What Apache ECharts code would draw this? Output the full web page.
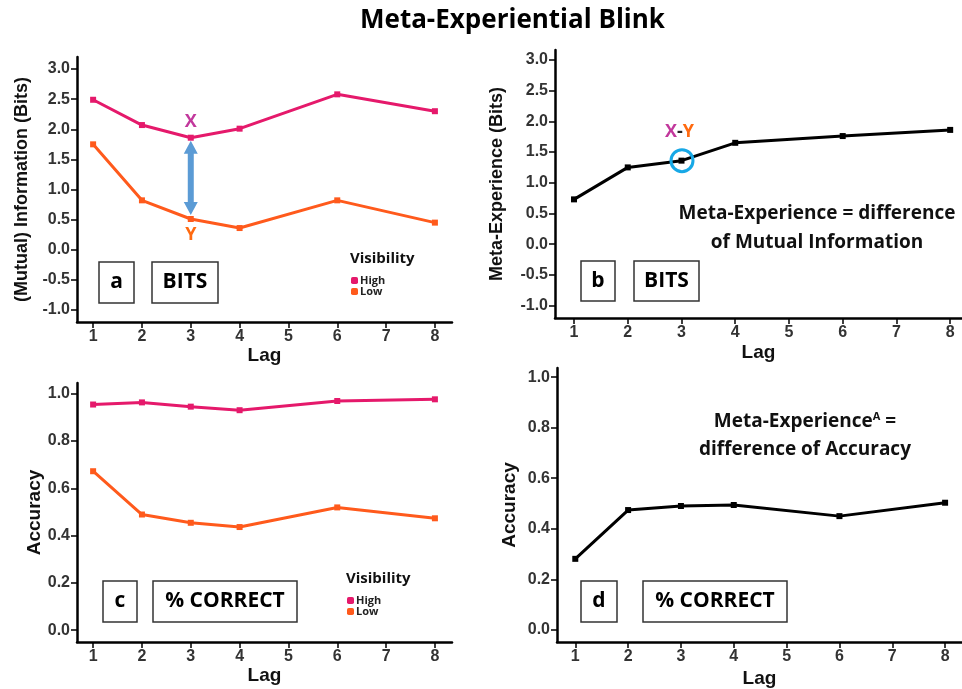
<!DOCTYPE html>
<html>
<head>
<meta charset="utf-8">
<script src="https://cdn.jsdelivr.net/npm/echarts@6/dist/echarts.min.js"></script>
<style>html,body{margin:0;padding:0;background:#fff}#c{width:962px;height:689px}</style>
</head>
<body>
<div id="c"></div>
<script>
const lags = [1, 2, 3, 4, 6, 8];
const lagTicks = [1, 2, 3, 4, 5, 6, 7, 8];
const bitsTicks = [-1, -0.5, 0, 0.5, 1, 1.5, 2, 2.5, 3];
const accTicks = [0, 0.2, 0.4, 0.6, 0.8, 1.0];
const bitsHigh = [2.49, 2.07, 1.86, 2.01, 2.58, 2.30];
const bitsLow = [1.75, 0.82, 0.51, 0.36, 0.82, 0.45];
const metaBits = [0.73, 1.25, 1.36, 1.65, 1.76, 1.86];
const accHigh = [0.954, 0.963, 0.945, 0.930, 0.969, 0.976];
const accLow = [0.672, 0.489, 0.454, 0.436, 0.519, 0.473];
const metaAcc = [0.281, 0.474, 0.490, 0.494, 0.450, 0.503];

const HIGH = '#e5196b', LOW = '#ff5a1c', MAG = '#c2389c', ORG = '#ff6a10';
const AX = 'Liberation Sans', TX = 'Open Sans';
const pairs = ys => lags.map((l, i) => [l, ys[i]]);

function xAxis(gi, min, max, gap) {
  return {
    type: 'value', gridIndex: gi, min: min, max: max,
    axisLine: {show: true, onZero: false, lineStyle: {color: '#000', width: 2.5}},
    axisTick: {show: true, length: 6, lineStyle: {color: '#000', width: 1.5}, customValues: lagTicks},
    axisLabel: {customValues: lagTicks, margin: 7, fontFamily: AX, fontWeight: 'bold', fontSize: 16, color: '#333'},
    splitLine: {show: false},
    name: 'Lag', nameLocation: 'middle', nameGap: gap,
    nameTextStyle: {fontFamily: AX, fontWeight: 'bold', fontSize: 19, color: '#111'}
  };
}
function yAxis(gi, min, max, ticks, name, gap, size) {
  return {
    type: 'value', gridIndex: gi, min: min, max: max,
    axisLine: {show: true, onZero: false, lineStyle: {color: '#000', width: 2.5}},
    axisTick: {show: true, length: 6, lineStyle: {color: '#000', width: 1.5}, customValues: ticks},
    axisLabel: {customValues: ticks, margin: 7, fontFamily: AX, fontWeight: 'bold', fontSize: 16, color: '#333',
      formatter: v => v.toFixed(1)},
    splitLine: {show: false},
    name: name, nameLocation: 'middle', nameGap: gap, nameRotate: 90,
    nameTextStyle: {fontFamily: AX, fontWeight: 'bold', fontSize: size, color: '#111'}
  };
}
function line(name, gi, ys, color) {
  return {
    type: 'line', name: name, xAxisIndex: gi, yAxisIndex: gi, data: pairs(ys),
    symbol: 'rect', symbolSize: 6, showSymbol: true,
    lineStyle: {color: color, width: 3}, itemStyle: {color: color},
    emphasis: {disabled: true}, animation: false
  };
}
function legend(left, top) {
  return {
    data: ['High', 'Low'], left: left, top: top, orient: 'vertical', padding: 0,
    itemWidth: 7, itemHeight: 7, itemGap: 0, icon: 'roundRect', selectedMode: false,
    textStyle: {fontFamily: TX, fontWeight: 'bold', fontSize: 11, color: '#222', lineHeight: 9, padding: [0, 0, 0, -3]}
  };
}

const chart = echarts.init(document.getElementById('c'));
chart.setOption({
  animation: false,
  title: {text: 'Meta-Experiential Blink', left: 355, top: 3,
    textStyle: {fontFamily: TX, fontWeight: 'bold', fontSize: 26, color: '#000'}},
  grid: [
    {left: 77, top: 57, width: 375, height: 265},
    {left: 555, top: 50, width: 407, height: 268},
    {left: 77, top: 383, width: 375, height: 259},
    {left: 557, top: 368, width: 405, height: 274}
  ],
  xAxis: [xAxis(0, 0.67, 8.35, 22), xAxis(1, 0.646, 8.22, 25), xAxis(2, 0.67, 8.35, 22), xAxis(3, 0.654, 8.32, 27)],
  yAxis: [
    yAxis(0, -1.2, 3.2, bitsTicks, '(Mutual) Information (Bits)', 46, 18),
    yAxis(1, -1.2, 3.16, bitsTicks, 'Meta-Experience (Bits)', 49, 18),
    yAxis(2, -0.05, 1.045, accTicks, 'Accuracy', 31, 19),
    yAxis(3, -0.048, 1.036, accTicks, 'Accuracy', 38, 19)
  ],
  legend: [legend(351, 275), legend(347, 595)],
  series: [
    line('High', 0, bitsHigh, HIGH), line('Low', 0, bitsLow, LOW),
    line('Meta', 1, metaBits, '#000'),
    line('High', 2, accHigh, HIGH), line('Low', 2, accLow, LOW),
    line('MetaA', 3, metaAcc, '#000')
  ]
});

function box(x, y, w, h, t, fs) {
  return [
    {type: 'rect', shape: {x: x, y: y, width: w, height: h}, style: {fill: '#fff', stroke: '#333', lineWidth: 1.5}, z: 10},
    {type: 'text', x: x + w / 2, y: y + h / 2, z: 11,
      style: {text: t, fontFamily: TX, fontWeight: 'bold', fontSize: fs, fill: '#000', align: 'center', verticalAlign: 'middle'}}
  ];
}
const pH = chart.convertToPixel({gridIndex: 0}, [3, bitsHigh[2]]);
const pL = chart.convertToPixel({gridIndex: 0}, [3, bitsLow[2]]);
const pM = chart.convertToPixel({gridIndex: 1}, [3, metaBits[2]]);
const ax = pH[0], y1 = pH[1] + 3, y2 = pL[1] - 4, hw = 7, hl = 13, sw = 3;
const arrow = [
  [ax, y1], [ax + hw, y1 + hl], [ax + sw, y1 + hl], [ax + sw, y2 - hl], [ax + hw, y2 - hl],
  [ax, y2], [ax - hw, y2 - hl], [ax - sw, y2 - hl], [ax - sw, y1 + hl], [ax - hw, y1 + hl]
];
const g = [].concat(
  box(99, 262, 35, 41, 'a', 21), box(152, 262, 66, 41, 'BITS', 21),
  box(581, 261, 34, 40, 'b', 21), box(634, 261, 65, 40, 'BITS', 21),
  box(103, 581, 34, 41, 'c', 21), box(153, 581, 144, 41, '% CORRECT', 21),
  box(581, 581, 36, 41, 'd', 21), box(643, 581, 144, 41, '% CORRECT', 21),
  [
    {type: 'polygon', shape: {points: arrow}, style: {fill: '#5b9bd5'}, z: 5},
    {type: 'text', x: ax, y: pH[1] - 16, style: {text: 'X', fontFamily: TX, fontWeight: 'bold', fontSize: 18, fill: MAG, align: 'center', verticalAlign: 'middle'}},
    {type: 'text', x: ax, y: pL[1] + 16, style: {text: 'Y', fontFamily: TX, fontWeight: 'bold', fontSize: 18, fill: ORG, align: 'center', verticalAlign: 'middle'}},
    {type: 'circle', shape: {cx: pM[0] + 0.5, cy: pM[1], r: 11}, style: {fill: 'none', stroke: '#17a8e6', lineWidth: 3}, z: 5},
    {type: 'text', x: pM[0] - 2, y: pM[1] - 29, style: {text: '{x|X}{d|-}{y|Y}', align: 'center', verticalAlign: 'middle',
      rich: {x: {fontFamily: TX, fontWeight: 'bold', fontSize: 18, fill: MAG}, d: {fontFamily: TX, fontWeight: 'bold', fontSize: 18, fill: '#222'}, y: {fontFamily: TX, fontWeight: 'bold', fontSize: 18, fill: ORG}}}},
    {type: 'text', x: 817, y: 228, style: {text: 'Meta-Experience = difference\nof Mutual Information', align: 'center', verticalAlign: 'middle',
      fontFamily: TX, fontWeight: 'bold', fontSize: 19, lineHeight: 29, fill: '#111'}},
    {type: 'text', x: 805, y: 422, style: {text: '{m|Meta-Experience}{s|A}{m| =}', align: 'center', verticalAlign: 'middle',
      rich: {m: {fontFamily: TX, fontWeight: 'bold', fontSize: 19, fill: '#111'}, s: {fontFamily: TX, fontWeight: 'bold', fontSize: 11, fill: '#111', padding: [0, 0, 11, 0]}}}},
    {type: 'text', x: 805, y: 450, style: {text: 'difference of Accuracy', align: 'center', verticalAlign: 'middle',
      fontFamily: TX, fontWeight: 'bold', fontSize: 19, fill: '#111'}},
    {type: 'text', x: 350, y: 259, style: {text: 'Visibility', fontFamily: TX, fontWeight: 'bold', fontSize: 15, fill: '#111', verticalAlign: 'middle'}},
    {type: 'text', x: 346, y: 579, style: {text: 'Visibility', fontFamily: TX, fontWeight: 'bold', fontSize: 15, fill: '#111', verticalAlign: 'middle'}}
  ]
);
chart.setOption({graphic: g});
</script>
</body>
</html>
